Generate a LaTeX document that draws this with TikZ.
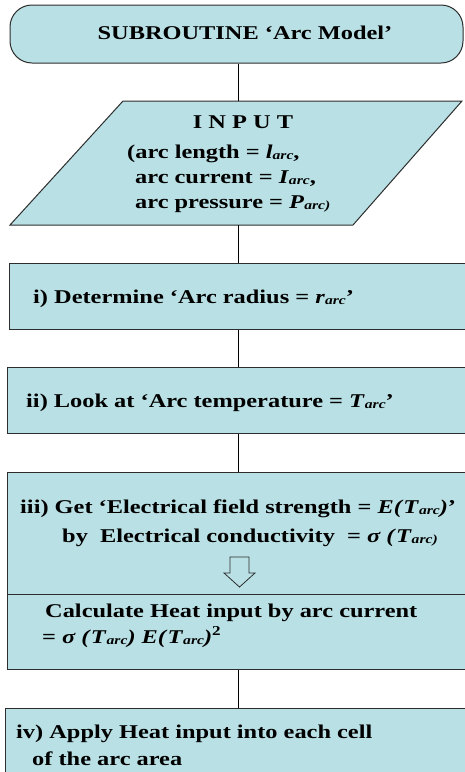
\documentclass[tikz,border=0pt]{standalone}
\usepackage{fontspec}
\setmainfont[FakeStretch=1.25]{Liberation Serif}
\usetikzlibrary{positioning}
\definecolor{boxfill}{RGB}{185,224,228}
\definecolor{boxline}{RGB}{45,45,45}
% variable with small italic index, e.g. l_arc
\newcommand{\vsub}[2]{\textit{#1}\raisebox{-1pt}{\fontsize{12.5}{12.5}\selectfont\textit{#2}}}

\begin{document}
\begin{tikzpicture}[x=1pt, y=-1pt, font=\fontsize{19.5}{25}\selectfont\bfseries,
  flowbox/.style={draw=boxline, fill=boxfill, line width=1pt, inner sep=0pt},
  link/.style={draw=black, line width=0.8pt},
  txt/.style={anchor=base west, inner sep=0pt}]
\clip (0,0) rectangle (465,772);

% Start
\node[flowbox, rounded corners=22pt, minimum width=453pt, minimum height=58pt] (start) at (236.5,34) {};
\node[txt, anchor=base] (starttxt) at (245,39) {SUBROUTINE ‘Arc Model’};

% Input
\draw[flowbox] (10,225) -- (123,101) -- (462,101) -- (353,225) -- cycle;
\coordinate (inputtop) at (238,101);
\coordinate (inputbot) at (238,225);
\node[txt, anchor=base] (inputhead) at (243,128) {I N P U T};
\node[txt] (inputa) at (127,158) {(arc length = \vsub{l}{arc},};
\node[txt] (inputb) at (135,183) {arc current = \vsub{I}{arc},};
\node[txt] (inputc) at (135,208) {arc pressure = \vsub{P}{arc)}};

% Steps
\node[flowbox, minimum width=458pt, minimum height=66pt] (boxi) at (238,296) {};
\node[txt] (boxitxt) at (33,303) {i) Determine ‘Arc radius = \vsub{r}{arc}’};

\node[flowbox, minimum width=462pt, minimum height=66pt] (boxii) at (238,400) {};
\node[txt] (boxiitxt) at (26,407) {ii) Look at ‘Arc temperature = \vsub{T}{arc}’};

\node[flowbox, minimum width=462pt, minimum height=122pt] (boxiii) at (238,533) {};
\node[txt] (boxiiitxt) at (20,513) {iii) Get ‘Electrical field strength = \textit{E(}\vsub{T}{arc}\textit{)}’};
\node[txt] (boxiiitxtb) at (62,542) {by\ \ Electrical conductivity\ \ = \textit{σ (}\vsub{T}{arc)}};
\draw[boxline, line width=0.8pt] (230,557) -- (249,557) -- (249,573) -- (255,573)
  -- (239.5,587) -- (224,573) -- (230,573) -- cycle;

\node[flowbox, minimum width=462pt, minimum height=75pt] (boxcalc) at (238,631.5) {};
\node[txt] (boxcalctxt) at (45,617) {Calculate Heat input by arc current};
\node[txt] (boxcalctxtb) at (42,643) {= \textit{σ (}\vsub{T}{arc}\textit{) E(}\vsub{T}{arc}\textit{)}\textsuperscript{2}};

\node[flowbox, minimum width=466pt, minimum height=90pt] (boxiv) at (238,753) {};
\node[txt] (boxivtxt) at (16,738) {iv) Apply Heat input into each cell};
\node[txt] (boxivtxtb) at (32,765) {of the arc area};

% Connectors
\draw[link] (start.south -| inputtop) -- (inputtop);
\draw[link] (inputbot) -- (boxi);
\draw[link] (boxi) -- (boxii);
\draw[link] (boxii) -- (boxiii);
\draw[link] (boxcalc) -- (boxiv);
\end{tikzpicture}
\end{document}
